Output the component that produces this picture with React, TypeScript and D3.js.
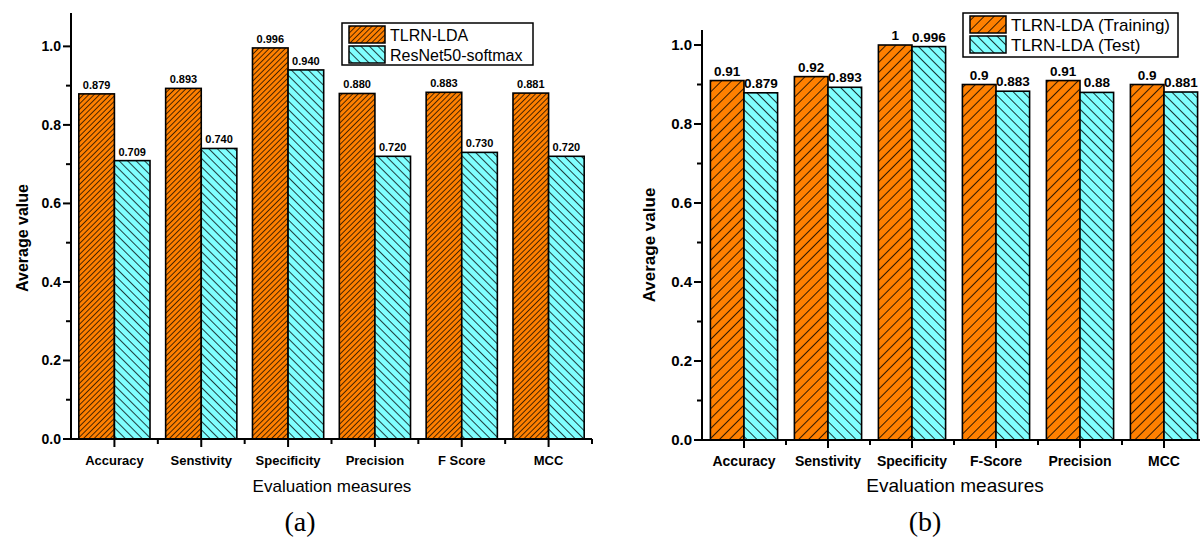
import React from 'react';
import { scaleBand, scaleLinear, range } from 'd3';

// panel (a)
const catsA = ['Accuracy', 'Senstivity', 'Specificity', 'Precision', 'F Score', 'MCC'];
const tlrnA = [0.879, 0.893, 0.996, 0.88, 0.883, 0.881];
const resnetA = [0.709, 0.74, 0.94, 0.72, 0.73, 0.72];
const labelsA1 = ['0.879', '0.893', '0.996', '0.880', '0.883', '0.881'];
const labelsA2 = ['0.709', '0.740', '0.940', '0.720', '0.730', '0.720'];
const legendA = ['TLRN-LDA', 'ResNet50-softmax'];

// panel (b)
const catsB = ['Accuracy', 'Senstivity', 'Specificity', 'F-Score', 'Precision', 'MCC'];
const trainB = [0.91, 0.92, 1, 0.9, 0.91, 0.9];
const testB = [0.879, 0.893, 0.996, 0.883, 0.88, 0.881];
const labelsB1 = ['0.91', '0.92', '1', '0.9', '0.91', '0.9'];
const labelsB2 = ['0.879', '0.893', '0.996', '0.883', '0.88', '0.881'];
const legendB = ['TLRN-LDA (Training)', 'TLRN-LDA (Test)'];

const yTicks = [0, 0.2, 0.4, 0.6, 0.8, 1.0];

const ORANGE = '#FF8000';
const CYAN = '#80FFFF';
const FONT = 'Arial, "Liberation Sans", sans-serif';

const Hatch = ({ id, color, size, dir, sw }) => (
  <pattern id={id} width={size} height={size} patternUnits="userSpaceOnUse"
    patternTransform={`rotate(${dir})`}>
    <rect width={size} height={size} fill={color} />
    <line x1={0} y1={0} x2={0} y2={size} stroke="#000" strokeWidth={sw} />
  </pattern>
);

const Panel = ({ p, cats, s1, s2, lab1, lab2, legend, pat1, pat2, lbl }) => {
  const x = scaleBand().domain(cats).range([p.left, p.right]).paddingInner(0).paddingOuter(0);
  const y = scaleLinear().domain([0, p.ymax]).range([p.bottom, p.top]);
  const bw = x.bandwidth();
  const pad = bw * p.pad;
  const barW = (bw - 2 * pad) / 2;
  const minor = range(0.1, p.ymax, 0.2);
  return (
    <g fontFamily={FONT}>
      {cats.map((c, i) => {
        const x0 = x(c) + pad;
        return (
          <g key={c}>
            <rect x={x0} y={y(s1[i])} width={barW} height={y(0) - y(s1[i])}
              fill={`url(#${pat1})`} stroke="#000" strokeWidth={1.6} />
            <rect x={x0 + barW} y={y(s2[i])} width={barW} height={y(0) - y(s2[i])}
              fill={`url(#${pat2})`} stroke="#000" strokeWidth={1.6} />
            <text x={x0 + barW / 2} y={y(s1[i]) - 5} textAnchor="middle"
              fontSize={p.valSize} fontWeight="bold">{lab1[i]}</text>
            <text x={x0 + barW * 1.5} y={y(s2[i]) - 5} textAnchor="middle"
              fontSize={p.valSize} fontWeight="bold">{lab2[i]}</text>
          </g>
        );
      })}
      {/* y axis */}
      <line x1={p.left} x2={p.left} y1={p.top} y2={p.bottom + 1} stroke="#000" strokeWidth={2} />
      {yTicks.map((t) => (
        <g key={t}>
          <line x1={p.left - 8} x2={p.left} y1={y(t)} y2={y(t)} stroke="#000" strokeWidth={2} />
          <text x={p.left - 10} y={y(t) + 5} textAnchor="end" fontSize={p.tickSize}
            fontWeight="bold">{t.toFixed(1)}</text>
        </g>
      ))}
      {minor.map((t) => (
        <line key={t} x1={p.left - 5} x2={p.left} y1={y(t)} y2={y(t)} stroke="#000" strokeWidth={2} />
      ))}
      {/* x axis */}
      <line x1={p.left - 1} x2={p.right} y1={p.bottom} y2={p.bottom} stroke="#000" strokeWidth={2} />
      {cats.map((c) => (
        <g key={c}>
          <line x1={x(c) + bw / 2} x2={x(c) + bw / 2} y1={p.bottom} y2={p.bottom + 8}
            stroke="#000" strokeWidth={2} />
          <line x1={x(c) + bw} x2={x(c) + bw} y1={p.bottom} y2={p.bottom + 5}
            stroke="#000" strokeWidth={2} />
          <text x={x(c) + bw / 2} y={p.bottom + 26} textAnchor="middle"
            fontSize={p.catSize} fontWeight="bold">{c}</text>
        </g>
      ))}
      <text x={p.xTitleX} y={492} textAnchor="middle" fontSize={p.xTitleSize}>Evaluation measures</text>
      <text transform={`translate(${p.yTitleX},${p.yTitleY}) rotate(-90)`} textAnchor="middle"
        fontSize={p.yTitleSize} fontWeight="bold">Average value</text>
      {/* legend */}
      <rect x={p.lg.x} y={p.lg.y} width={p.lg.w} height={p.lg.h} fill="#fff" stroke="#000" strokeWidth={1.5} />
      {legend.map((l, i) => (
        <g key={l}>
          <rect x={p.lg.x + 7} y={p.lg.y + 3 + i * p.lg.row} width={36} height={p.lg.row - 3}
            fill={`url(#${i === 0 ? pat1 : pat2})`} stroke="#000" strokeWidth={1.5} />
          <text x={p.lg.x + 48} y={p.lg.y + p.lg.row - 2 + i * p.lg.row} fontSize={p.lg.size}>{l}</text>
        </g>
      ))}
      <text x={p.capX} y={531} textAnchor="middle" fontSize={28}
        fontFamily='"Liberation Serif", "Times New Roman", serif'>{lbl}</text>
    </g>
  );
};

const pA = {
  left: 71, right: 592, top: 13, bottom: 439, ymax: 1.085, pad: 0.09,
  valSize: 11, tickSize: 14, catSize: 13,
  xTitleX: 332, xTitleSize: 17, yTitleX: 28, yTitleY: 238, yTitleSize: 16,
  lg: { x: 342, y: 23, w: 191, h: 42, row: 20, size: 16 }, capX: 300,
};
const pB = {
  left: 702, right: 1206, top: 30, bottom: 440, ymax: 1.038, pad: 0.1,
  valSize: 13.5, tickSize: 15, catSize: 14,
  xTitleX: 955, xTitleSize: 19, yTitleX: 655, yTitleY: 245, yTitleSize: 17,
  lg: { x: 963, y: 13, w: 215, h: 44, row: 20, size: 17 }, capX: 925,
};

export default function App() {
  return (
    <svg width={1200} height={541} style={{ position: 'absolute', left: 0, top: 0, background: '#fff' }}>
      <defs>
        <Hatch id="oA" color={ORANGE} size={3.8} dir={45} sw={1.4} />
        <Hatch id="cA" color={CYAN} size={6} dir={-45} sw={1.5} />
        <Hatch id="oB" color={ORANGE} size={7} dir={45} sw={1.6} />
        <Hatch id="cB" color={CYAN} size={7} dir={-45} sw={1.6} />
      </defs>
      <rect width={1200} height={541} fill="#fff" />
      <Panel p={pA} cats={catsA} s1={tlrnA} s2={resnetA} lab1={labelsA1} lab2={labelsA2}
        legend={legendA} pat1="oA" pat2="cA" lbl="(a)" />
      <Panel p={pB} cats={catsB} s1={trainB} s2={testB} lab1={labelsB1} lab2={labelsB2}
        legend={legendB} pat1="oB" pat2="cB" lbl="(b)" />
    </svg>
  );
}
